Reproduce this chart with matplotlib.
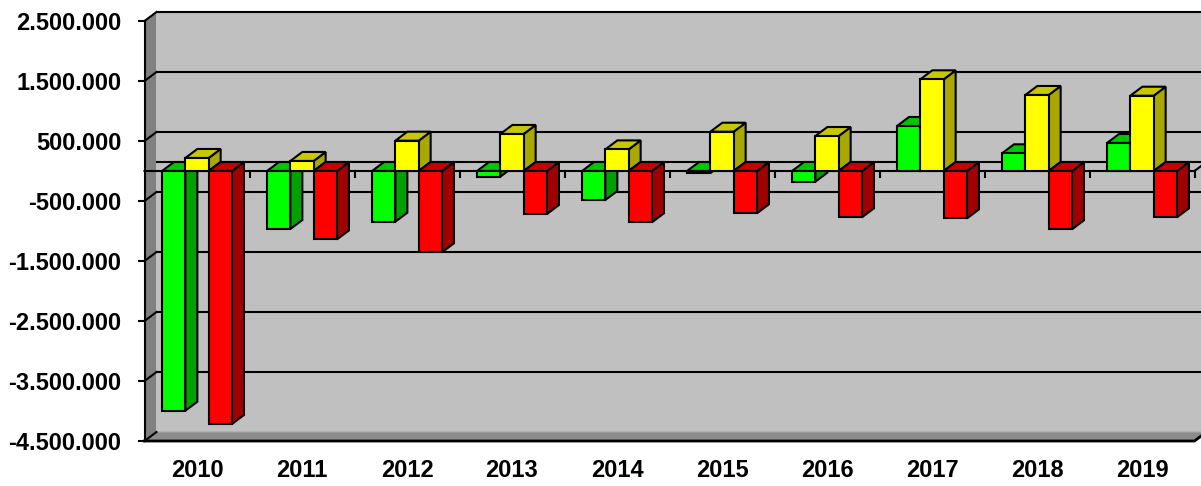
import numpy as np
import matplotlib.pyplot as plt
from matplotlib.patches import Polygon, Rectangle

# data
years = ['2010', '2011', '2012', '2013', '2014', '2015', '2016', '2017', '2018', '2019']
green = [-3995000, -967000, -845000, -95000, -483000, -35000, -178000, 750000, 295000, 467000]
yellow = [217000, 167000, 505000, 617000, 360000, 655000, 583000, 1528000, 1267000, 1255000]
red = [-4217000, -1140000, -1355000, -717000, -855000, -705000, -772000, -790000, -972000, -772000]
yticks = [-4500000, -3500000, -2500000, -1500000, -500000, 500000, 1500000, 2500000]

ymin, ymax = -4500000, 2500000
ncat = len(years)
# 3d depth offset expressed in data units (12px right, 9px up)
dx = 12 / 105.0
dy = 9 / 60.0 * 1e6

series = [
    (green, '#00ff00', '#00c800', '#00a000'),
    (yellow, '#ffff00', '#c8c800', '#a8a800'),
    (red, '#ff0000', '#c80000', '#a00000'),
]
barw = 0.222

plt.rcParams['font.family'] = ['Liberation Sans', 'DejaVu Sans']
fig = plt.figure(figsize=(12.01, 4.86), dpi=100)
ax = fig.add_axes([144.5 / 1201, 1 - 441 / 486, 1050 / 1201, 420 / 486])
ax.set_xlim(0, ncat)
ax.set_ylim(ymin, ymax)
ax.patch.set_visible(False)

lw = 1.5

# walls
ax.add_patch(Rectangle((dx, ymin + dy), ncat, ymax - ymin, facecolor='#c0c0c0',
                       edgecolor='none', zorder=0, clip_on=False))
ax.add_patch(Polygon([(0, ymin), (0, ymax), (dx, ymax + dy), (dx, ymin + dy)],
                     closed=True, facecolor='#808080', edgecolor='none', zorder=0.5, clip_on=False))
ax.add_patch(Polygon([(0, ymin), (ncat, ymin), (ncat + dx, ymin + dy), (dx, ymin + dy)],
                     closed=True, facecolor='#8c8c8c', edgecolor='#a8a8a8', lw=0.8,
                     zorder=0.5, clip_on=False))

# gridlines on back wall + side wall
for v in yticks:
    if v != ymin:
        ax.plot([dx, ncat + dx], [v + dy, v + dy], color='black', lw=lw, zorder=1, clip_on=False)
    ax.plot([0, dx], [v, v + dy], color='black', lw=lw, zorder=1, clip_on=False)

# zero plane
ax.plot([dx, ncat + dx], [dy, dy], color='black', lw=lw, zorder=1, clip_on=False)
ax.plot([0, ncat, ncat + dx], [0, 0, dy], color='black', lw=lw, zorder=1, clip_on=False)
for i in range(1, ncat + 1):
    ax.plot([i, i], [0, -100000], color='black', lw=lw, zorder=1, clip_on=False)

# floor front edge
ax.plot([0, ncat, ncat + dx], [ymin, ymin, ymin + dy], color='black', lw=2, zorder=1, clip_on=False)


def box(x0, v, front, top, side, z):
    x1 = x0 + barw
    hi = max(v, 0)
    lo = min(v, 0)
    kw = dict(closed=True, edgecolor='black', lw=lw, joinstyle='miter', clip_on=False)
    ax.add_patch(Polygon([(x1, lo), (x1 + dx, lo + dy), (x1 + dx, hi + dy), (x1, hi)],
                         facecolor=side, zorder=z, **kw))
    ax.add_patch(Polygon([(x0, hi), (x1, hi), (x1 + dx, hi + dy), (x0 + dx, hi + dy)],
                         facecolor=top, zorder=z + 0.1, **kw))
    ax.add_patch(Polygon([(x0, lo), (x1, lo), (x1, hi), (x0, hi)],
                         facecolor=front, zorder=z + 0.2, **kw))


for i in range(ncat):
    for j, (vals, fc, tc, sc) in enumerate(series):
        x0 = i + 0.5 + (j - 1.5) * barw
        box(x0, vals[i], fc, tc, sc, 2 + i * 3 + j)

# axes / labels
for s in ['top', 'right', 'bottom']:
    ax.spines[s].set_visible(False)
ax.spines['left'].set_linewidth(lw)
ax.spines['left'].set_zorder(50)

ax.set_yticks(yticks)
ax.set_yticklabels(['{:,}'.format(v).replace(',', '.') for v in yticks])
ax.set_xticks(np.arange(ncat) + 0.5)
ax.set_xticklabels(years)
ax.tick_params(axis='y', direction='out', length=5, width=lw, pad=11.5, labelsize=17)
ax.tick_params(axis='x', length=0, pad=13, labelsize=17)
for lab in ax.get_xticklabels() + ax.get_yticklabels():
    lab.set_fontweight('bold')

fig.savefig('out.png', dpi=100)
